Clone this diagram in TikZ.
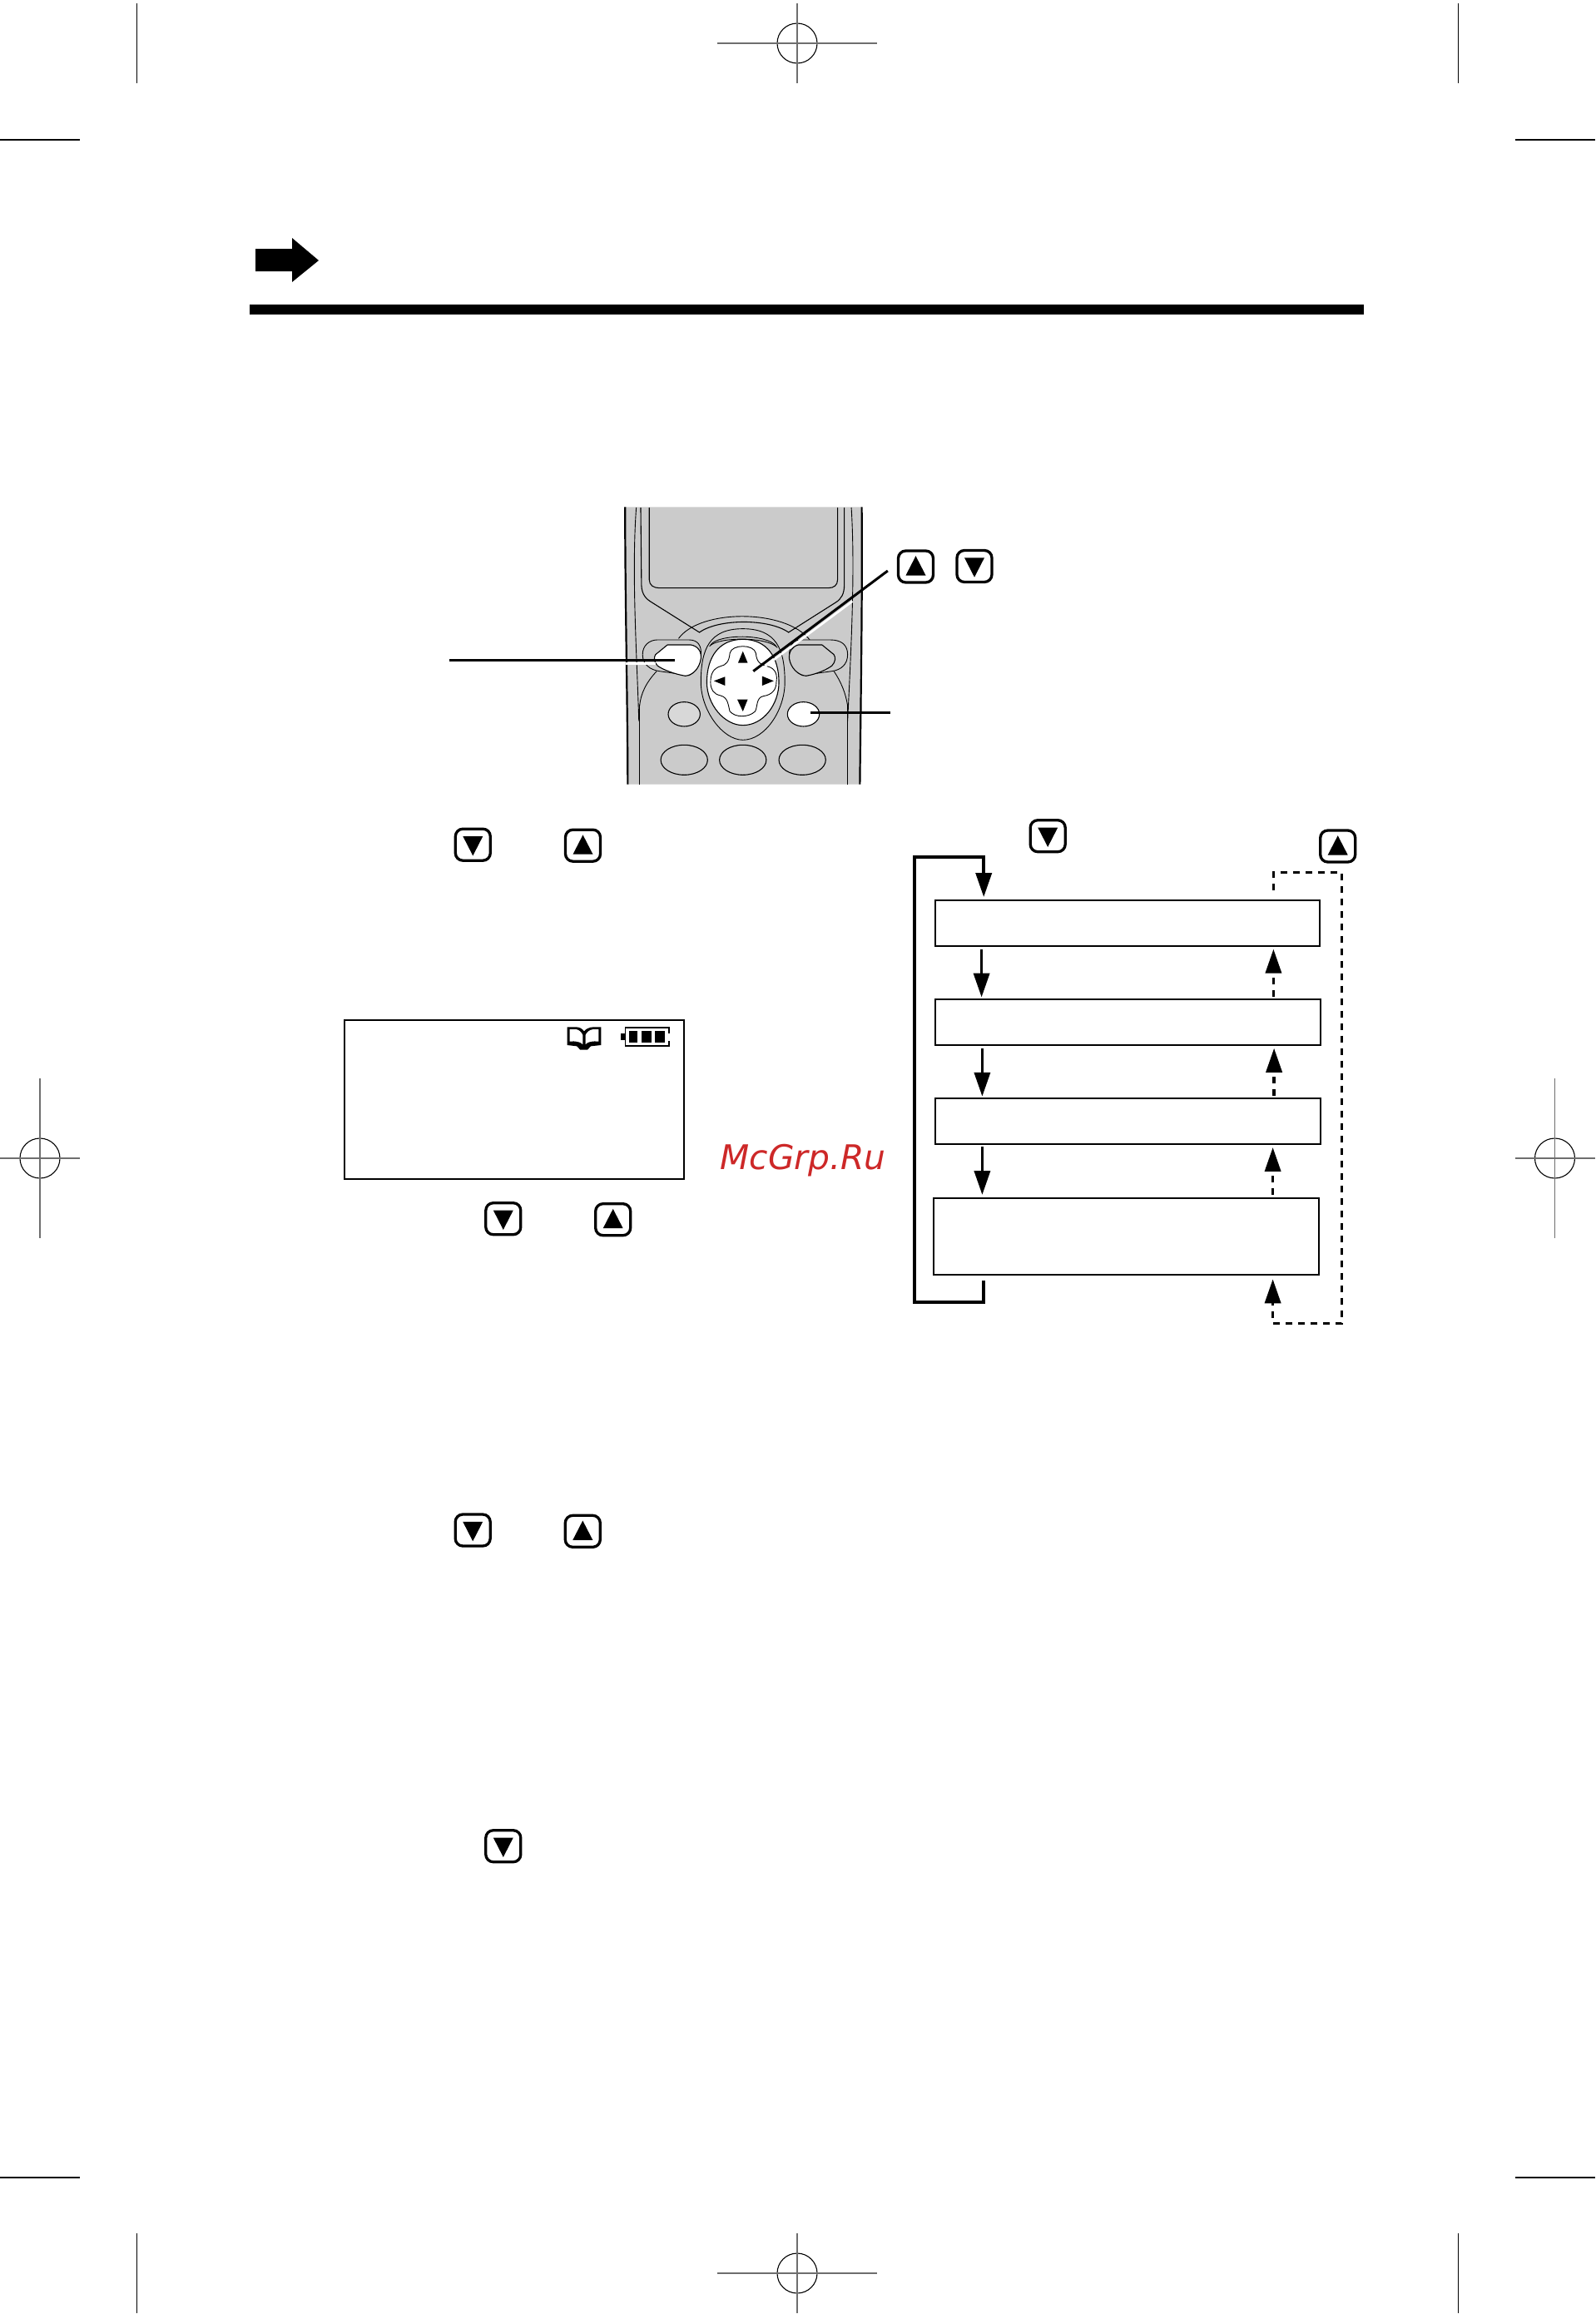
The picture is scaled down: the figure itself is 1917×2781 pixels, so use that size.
\documentclass[tikz,border=0pt]{standalone}
\usepackage{fontspec}
\setmainfont{DejaVu Sans}
\usetikzlibrary{arrows.meta}
\definecolor{phonegray}{RGB}{203,203,203}
\definecolor{btngray}{RGB}{216,216,216}
\definecolor{markgray}{RGB}{110,110,110}
\definecolor{wmred}{RGB}{205,40,40}
\tikzset{
  keybox/.style={draw=black,fill=white,line width=3.3pt,rounded corners=9pt,minimum width=42pt,minimum height=38pt,inner sep=0pt,outer sep=0pt},
  flowbox/.style={draw=black,fill=white,line width=2.2pt,inner sep=0pt,outer sep=0pt},
  thinmark/.style={black,line width=1.1pt},
  graymark/.style={markgray,line width=1.7pt},
  ringmark/.style={black,line width=1.1pt},
  heavy/.style={black,line width=3.7pt},
  bigtip/.style={-{Triangle[length=29pt,width=19pt]}},
  dashline/.style={black,line width=3.7pt,dash pattern=on 8pt off 7pt},
  thinp/.style={black,line width=0.9pt},
  medp/.style={black,line width=1.1pt},
  leader/.style={black,line width=3pt},
  halo/.style={white,line width=2.5pt}
}
\newcommand{\KeyDown}[2]{\node[keybox] (#1) at (#2) {};
  \fill[black,shift={(#1.center)}] (-12,-10.2) -- (12,-10.2) -- (0,13.2) -- cycle;}
\newcommand{\KeyUp}[2]{\node[keybox] (#1) at (#2) {};
  \fill[black,shift={(#1.center)}] (-12,10.5) -- (12,10.5) -- (0,-12.8) -- cycle;}
\begin{document}
\begin{tikzpicture}[x=1pt,y=-1pt]
\useasboundingbox (0,0) rectangle (1917,2781);
\fill[white] (0,0) rectangle (1917,2781);

% trim marks
\draw[thinmark] (164.5,4) -- (164.5,100);
\draw[thinmark] (1752.7,4) -- (1752.7,100);
\draw[thinmark] (164.5,2684) -- (164.5,2780);
\draw[thinmark] (1752.7,2684) -- (1752.7,2780);
\draw[thinmark] (0,168) -- (96,168);
\draw[thinmark] (1820.5,168) -- (1917,168);
\draw[thinmark] (0,2617) -- (96,2617);
\draw[thinmark] (1820.5,2617) -- (1917,2617);

% registration marks
\draw[ringmark] (958,52) circle (24);
\draw[graymark] (862,52) -- (1054,52);
\draw[graymark] (958,4) -- (958,100);
\draw[ringmark] (958,2732) circle (24);
\draw[graymark] (862,2732) -- (1054,2732);
\draw[graymark] (958,2684) -- (958,2780);
\draw[ringmark] (48,1392) circle (24);
\draw[graymark] (0,1392) -- (96,1392);
\draw[graymark] (48,1296) -- (48,1488);
\draw[ringmark] (1868.5,1392) circle (24);
\draw[graymark] (1820.5,1392) -- (1916.5,1392);
\draw[graymark] (1868.5,1296) -- (1868.5,1488);

% header arrow and rule
\fill[black] (307,299) -- (351,299) -- (351,286) -- (383,313) -- (351,339) -- (351,326) -- (307,326) -- cycle;
\fill[black] (300,366) rectangle (1639,378);

% phone (drawn in the coordinates of a 2.24 x 3 enlargement)
\begin{scope}[shift={(520,590)},x=0.4464pt,y=-0.3333pt]
  \fill[phonegray] (518,58) .. controls (518,400) and (525,800) .. (525,1058) -- (1150,1058) .. controls (1152,800) and (1157,400) .. (1155,58) -- cycle;
  \draw[black,line width=2.2pt] (518,58) .. controls (518,400) and (525,800) .. (525,1058);
  \draw[black,line width=2.2pt] (1155,58) .. controls (1157,400) and (1152,800) .. (1150,1058);
  % inner body lines
  \draw[thinp] (548,60) .. controls (535,300) and (550,600) .. (555,830);
  \draw[thinp] (1127,60) .. controls (1138,300) and (1125,600) .. (1117,830);
  \draw[thinp] (557,770) -- (557,1058);
  \draw[thinp] (1117,770) -- (1117,1058);
  \draw[thinp] (603,650) .. controls (575,690) and (560,730) .. (557,775);
  \draw[thinp] (1080,650) .. controls (1100,690) and (1112,730) .. (1117,775);
  % screen surround
  \draw[medp] (560,60) -- (562,340) .. controls (563,375) and (575,390) .. (590,402) -- (718,510) .. controls (770,460) and (905,460) .. (958,510) -- (1085,402) .. controls (1100,390) and (1108,370) .. (1108,340) -- (1108,60);
  \draw[thinp] (662,532) .. controls (720,425) and (950,425) .. (1015,537);
  % screen
  \draw[medp] (583,60) -- (583,320) .. controls (583,340) and (595,350) .. (610,350) -- (1065,350) .. controls (1080,350) and (1090,340) .. (1090,320) -- (1090,60);
  % soft keys
  \draw[thinp,fill=phonegray] (605,537) -- (690,537) .. controls (715,537) and (724,560) .. (722,590) .. controls (720,625) and (710,650) .. (690,665) -- (610,650) .. controls (585,645) and (565,625) .. (565,590) .. controls (565,555) and (585,537) .. (605,537) -- cycle;
  \draw[thinp,fill=phonegray] (1070,537) -- (990,537) .. controls (970,537) and (960,560) .. (960,590) .. controls (960,625) and (975,650) .. (995,665) -- (1075,650) .. controls (1100,645) and (1117,625) .. (1117,590) .. controls (1117,555) and (1100,537) .. (1070,537) -- cycle;
  \draw[medp,fill=white] (632,555) -- (695,555) .. controls (715,560) and (724,580) .. (722,605) .. controls (718,640) and (700,665) .. (680,667) .. controls (650,660) and (620,645) .. (605,630) .. controls (595,615) and (595,600) .. (600,590) -- cycle;
  \draw[medp,fill=phonegray] (1048,555) -- (985,555) .. controls (968,560) and (958,580) .. (960,605) .. controls (964,640) and (985,665) .. (1005,667) .. controls (1035,660) and (1060,645) .. (1075,630) .. controls (1085,615) and (1085,600) .. (1080,590) -- cycle;
  % d-pad surround
  \draw[thinp,fill=phonegray] (835,497) .. controls (745,497) and (722,570) .. (722,690) .. controls (722,790) and (780,898) .. (835,898) .. controls (895,898) and (948,790) .. (948,690) .. controls (948,570) and (925,497) .. (835,497) -- cycle;
  \draw[thinp] (748,555) .. controls (770,515) and (900,515) .. (925,560);
  \draw[thinp] (745,560) .. controls (770,525) and (900,525) .. (928,565);
  \draw[medp,fill=white] (835,535) .. controls (770,535) and (738,600) .. (738,690) .. controls (738,770) and (785,845) .. (835,845) .. controls (890,845) and (932,770) .. (932,690) .. controls (932,600) and (900,535) .. (835,535) -- cycle;
  % d-pad cross
  \draw[thinp] (800,585) .. controls (805,552) and (865,552) .. (870,585) .. controls (872,620) and (885,628) .. (900,632) .. controls (925,640) and (928,665) .. (925,690) .. controls (925,715) and (915,735) .. (890,740) .. controls (870,745) and (875,780) .. (868,795) .. controls (850,818) and (815,818) .. (800,795) .. controls (795,770) and (795,745) .. (775,738) .. controls (755,732) and (748,715) .. (748,690) .. controls (748,660) and (755,640) .. (775,632) .. controls (790,628) and (798,615) .. (800,585) -- cycle;
  \fill[black] (835,578) -- (848,620) -- (822,620) -- cycle;
  \fill[black] (820,752) -- (848,752) -- (835,795) -- cycle;
  \fill[black] (757,685) -- (787,670) -- (787,702) -- cycle;
  \fill[black] (918,685) -- (887,668) -- (887,702) -- cycle;
  % round buttons
  \draw[medp,fill=btngray] (677,805) ellipse (43 and 44);
  \draw[medp,fill=white] (998,805) ellipse (43 and 44);
  \draw[medp] (677,970) ellipse (63 and 54);
  \draw[medp] (835,970) ellipse (63 and 54);
  \draw[medp] (995,970) ellipse (63 and 54);
  % named ends of the leader lines
  \coordinate (softkeyend) at (652,610);
  \coordinate (softkeyfree) at (45,610);
  \coordinate (navend) at (863,650);
  \coordinate (navfree) at (1225,288);
  \coordinate (okend) at (1018,800);
  \coordinate (okfree) at (1232,800);
  \coordinate (haloA) at (520,622);
  \coordinate (haloB) at (600,622);
  \coordinate (haloC) at (875,652);
  \coordinate (haloD) at (1130,398);
\end{scope}
\draw[halo] (haloA) -- (haloB);
\draw[halo] (haloC) -- (haloD);
\draw[leader] (softkeyfree) -- (softkeyend);
\draw[leader] (navfree) -- (navend);
\draw[leader] (okend) -- (okfree);

% keys
\KeyUp{phoneup}{1100.5,681}
\KeyDown{phonedown}{1171,680.5}
\KeyDown{stepdownA}{568.3,1015.2}
\KeyUp{stepupA}{700.5,1016.2}
\KeyDown{stepdownB}{604.8,1464.7}
\KeyUp{stepupB}{736.7,1465.7}
\KeyDown{stepdownC}{568.2,1839}
\KeyUp{stepupC}{700.3,1840.3}
\KeyDown{stepdownD}{604.8,2218.7}
\KeyDown{flowdown}{1259.2,1004.7}
\KeyUp{flowup}{1607.7,1017}

% display
\node[flowbox,minimum width=407.6pt,minimum height=191.3pt] (display) at (617.8,1321.3) {};
\begin{scope}[shift={(400,1200)},x=0.3333pt,y=-0.3333pt]
  % book
  \fill[black] (845,103) -- (878,103) .. controls (890,103) and (900,110) .. (906,118) .. controls (912,110) and (925,103) .. (940,103) -- (967,103) -- (967,168) -- (930,172) -- (918,185) -- (892,185) -- (880,172) -- (845,168) -- cycle;
  \fill[white] (854,111) -- (876,111) .. controls (888,112) and (897,122) .. (901,132) -- (901,165) .. controls (890,155) and (875,153) .. (854,155) -- cycle;
  \fill[white] (958,111) -- (940,111) .. controls (925,112) and (915,122) .. (911,132) -- (911,165) .. controls (920,155) and (938,153) .. (958,155) -- cycle;
  % battery
  \fill[black] (1037,127) rectangle (1052,150);
  \draw[black,line width=1.7pt] (1212,125) -- (1212,106) -- (1055,106) -- (1055,172) -- (1212,172) -- (1212,152);
  \fill[black] (1068,118) rectangle (1099,160);
  \fill[black] (1112,118) rectangle (1148,160);
  \fill[black] (1162,118) rectangle (1196,160);
\end{scope}

% watermark
\node[anchor=base west,inner sep=0pt,text=wmred,font=\fontsize{40.8}{41}\selectfont\itshape] (watermark) at (865.5,1405) {McGrp.Ru};

% flow boxes
\node[flowbox,minimum width=461.7pt,minimum height=55.1pt] (boxA) at (1355,1109.4) {};
\node[flowbox,minimum width=462.8pt,minimum height=54.7pt] (boxB) at (1355.5,1228.3) {};
\node[flowbox,minimum width=462.8pt,minimum height=54.7pt] (boxC) at (1355.5,1347.5) {};
\node[flowbox,minimum width=462.5pt,minimum height=91.4pt] (boxD) at (1353.5,1485.9) {};

\coordinate (dnA) at (1179.6,0);
\coordinate (dnB) at (1180.4,0);
\coordinate (loopx) at (1182.2,0);
\coordinate (upA) at (1530.4,0);
\coordinate (upB) at (1531.1,0);
\coordinate (upC) at (1529.6,0);

% solid arrows
\draw[heavy,bigtip,shorten <=7.4pt,shorten >=3.8pt] (boxD.south -| loopx) -- (1182.2,1565) -- (1099,1565) -- (1099,1030) -- (1182.2,1030) -- (boxA.north -| loopx);
\draw[heavy,bigtip,shorten <=4.5pt,shorten >=2.4pt] (boxA.south -| dnA) -- (boxB.north -| dnA);
\draw[heavy,bigtip,shorten <=4.1pt,shorten >=2.4pt] (boxB.south -| dnB) -- (boxC.north -| dnB);
\draw[heavy,bigtip,shorten <=3.3pt,shorten >=4.2pt] (boxC.south -| dnB) -- (boxD.north -| dnB);

% dashed arrows
\draw[dashline,bigtip,shorten <=3.2pt,shorten >=3.7pt] (boxB.north -| upA) -- (boxA.south -| upA);
\draw[dashline,bigtip,shorten <=3.3pt,shorten >=4.1pt] (boxC.north -| upB) -- (boxB.south -| upB);
\draw[dashline,bigtip,shorten <=4.2pt,shorten >=4.1pt] (boxD.north -| upC) -- (boxC.south -| upC);
\draw[dashline,bigtip,shorten <=11.8pt,shorten >=5.7pt] (boxA.north -| upA) -- (1530.4,1048.4) -- (1612.5,1048.4) -- (1612.5,1590.4) -- (1529.6,1590.4) -- (boxD.south -| upC);
\end{tikzpicture}
\end{document}
